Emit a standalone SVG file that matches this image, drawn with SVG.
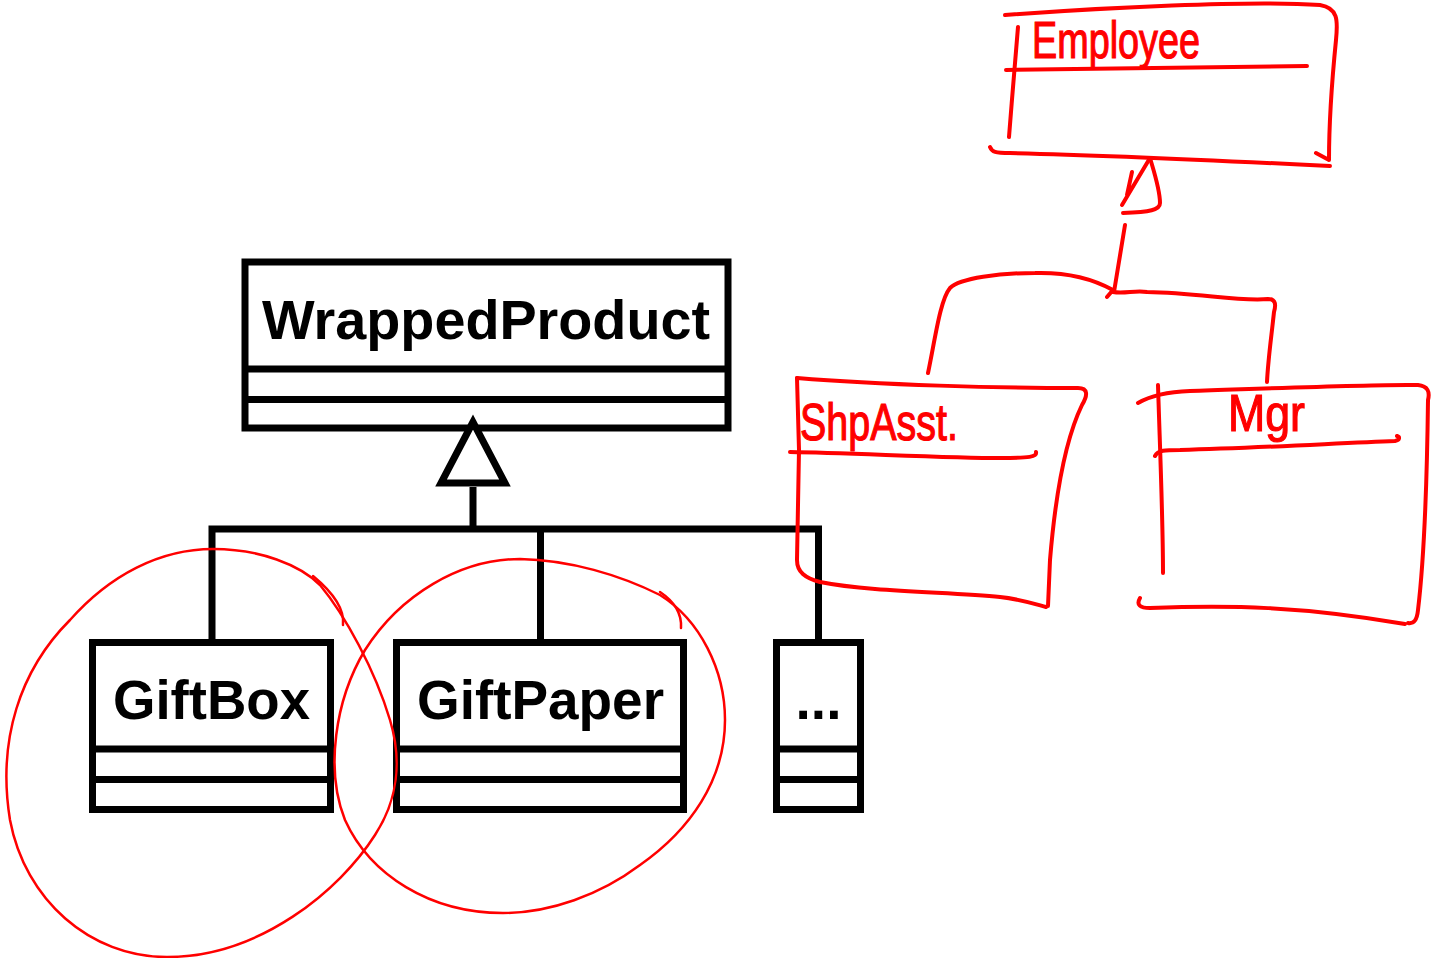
<svg xmlns="http://www.w3.org/2000/svg" width="1431" height="958" viewBox="0 0 1431 958">
<style>
.box{fill:#fff;stroke:#000;stroke-width:7}
.div{stroke:#000;stroke-width:7;fill:none}
.conn{stroke:#000;stroke-width:7;fill:none}
.lbl{font-family:"Liberation Sans",Arial,sans-serif;font-weight:bold;font-size:55px;fill:#000}
.ink{fill:none;stroke:#ff0000;stroke-width:4;stroke-linecap:round;stroke-linejoin:round}
.thin{fill:none;stroke:#ff0000;stroke-width:2.5;stroke-linecap:round;stroke-linejoin:round}
.hand{font-family:"Liberation Sans",Arial,sans-serif;font-size:52px;fill:#ff0000;stroke:#ff0000;stroke-width:1.2}
</style>
<rect width="1431" height="958" fill="#fff"/>
<g id="WrappedProduct">
<rect class="box" x="245" y="262" width="483" height="166"/>
<line class="div" x1="245" y1="369" x2="728" y2="369"/>
<line class="div" x1="245" y1="399.5" x2="728" y2="399.5"/>
<text class="lbl" x="262" y="339" textLength="448" lengthAdjust="spacingAndGlyphs">WrappedProduct</text>
</g>
<g id="GiftBox">
<rect class="box" x="92.5" y="642.5" width="238" height="167"/>
<line class="div" x1="92.5" y1="749" x2="330.5" y2="749"/>
<line class="div" x1="92.5" y1="779.5" x2="330.5" y2="779.5"/>
<text class="lbl" x="113" y="719" textLength="197" lengthAdjust="spacingAndGlyphs">GiftBox</text>
</g>
<g id="GiftPaper">
<rect class="box" x="396.5" y="642.5" width="287" height="167"/>
<line class="div" x1="396.5" y1="749" x2="683.5" y2="749"/>
<line class="div" x1="396.5" y1="779.5" x2="683.5" y2="779.5"/>
<text class="lbl" x="417" y="719" textLength="247" lengthAdjust="spacingAndGlyphs">GiftPaper</text>
</g>
<g id="More">
<rect class="box" x="776.5" y="642.5" width="84" height="167"/>
<line class="div" x1="776.5" y1="749" x2="860.5" y2="749"/>
<line class="div" x1="776.5" y1="779.5" x2="860.5" y2="779.5"/>
<text class="lbl" x="818.5" y="719" text-anchor="middle">...</text>
</g>
<g id="connectors">
<path class="conn" d="M473,487 V529 M212,642 V529 H818.5 V642 M540.5,529 V642"/>
<polygon points="473,422 441,483 505,483" fill="#fff" stroke="#000" stroke-width="7"/>
</g>
<g id="circles">
<path class="thin" d="M213,549 C260,549 300,565 320,585 C345,615 375,670 390,720 C402,760 398,800 375,835 C340,890 260,957 167,957 C90,957 25,900 10,820 C-3,740 20,670 70,620 C110,575 160,549 213,549 Z"/>
<path class="thin" d="M313,576 C330,590 345,608 343,625"/>
<path class="thin" d="M520,559 C570,560 620,575 660,595 C700,620 725,670 725,720 C725,780 690,830 640,865 C600,895 550,913 503,913 C430,913 370,875 345,820 C325,770 335,700 365,650 C400,595 460,559 520,559 Z"/>
<path class="thin" d="M660,592 C672,600 682,612 681,628"/>
</g>
<g id="Employee">
<path class="ink" d="M1005,15 C1100,8 1250,0 1320,5 C1338,8 1338,20 1336,40 C1332,80 1329,130 1329,160 L1316,153"/>
<path class="ink" d="M1018,27 C1015,60 1012,100 1009,137"/>
<path class="ink" d="M1006,70 C1100,68 1200,68 1307,66"/>
<path class="ink" d="M990,147 C992,152 995,153 1010,153 C1100,155 1250,162 1330,166"/>
<text class="hand" x="1032" y="58" textLength="168" lengthAdjust="spacingAndGlyphs">Employee</text>
</g>
<g id="ShpAsst">
<path class="ink" d="M797,378 C880,385 1000,388 1078,388 C1088,388 1088,395 1082,405 C1065,440 1055,500 1050,560 L1048,606"/>
<path class="ink" d="M797,378 L799,450 L797,560 C797,572 805,578 820,582 C870,592 950,592 1000,597 C1020,599 1035,604 1046,607"/>
<path class="ink" d="M790,452 C850,453 950,458 1000,458 C1030,458 1037,457 1036,452"/>
<text class="hand" x="800" y="440" textLength="158" lengthAdjust="spacingAndGlyphs">ShpAsst.</text>
</g>
<g id="Mgr">
<path class="ink" d="M1138,403 C1150,396 1165,392 1190,391 C1280,388 1380,384 1418,385 C1428,386 1430,392 1428,400 C1427,480 1424,560 1418,610 C1417,620 1414,624 1408,623"/>
<path class="ink" d="M1158,385 C1160,450 1163,520 1163,573"/>
<path class="ink" d="M1140,598 C1136,605 1140,608 1150,608 C1230,605 1300,606 1405,624"/>
<path class="ink" d="M1155,456 C1158,450 1165,450 1180,450 C1260,448 1340,443 1395,441 C1400,440 1400,437 1397,436"/>
<text class="hand" x="1228" y="431" font-size="46" textLength="77" lengthAdjust="spacingAndGlyphs">Mgr</text>
</g>
<g id="red-connectors">
<path class="ink" d="M1150,158 L1122,205 M1132,172 L1127,195"/>
<path class="ink" d="M1150,158 C1155,175 1160,190 1160,203 C1160,210 1150,212 1123,213"/>
<path class="ink" d="M1125,225 L1114,292"/>
<path class="ink" d="M1113,290 C1095,280 1070,272 1035,273 C1000,273 960,278 950,288 C940,300 935,340 928,373 M1113,290 L1107,297"/>
<path class="ink" d="M1113,292 C1125,294 1135,290 1147,292 C1200,293 1240,302 1268,299 C1276,299 1276,305 1274,312 C1271,340 1268,360 1267,382"/>
</g>
</svg>
